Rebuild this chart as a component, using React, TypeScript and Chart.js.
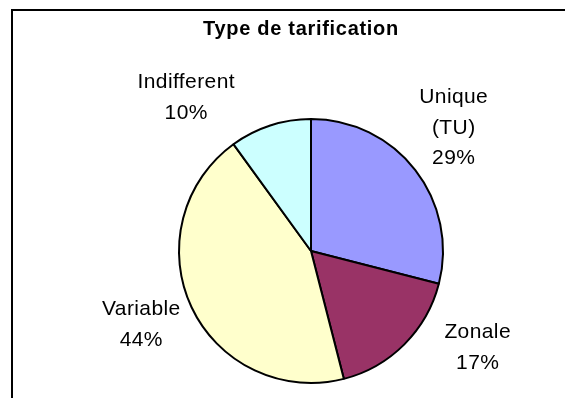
import React, { useEffect, useRef } from "react";
import { Chart, registerables } from "chart.js";

Chart.register(...registerables);

const chartTitle = "Type de tarification";
const categories = ["Unique (TU)", "Zonale", "Variable", "Indifferent"];
const shares = [29, 17, 44, 10];
const sliceColors = ["#9999FF", "#993366", "#FFFFCC", "#CCFFFF"];

const FONT = "'Liberation Sans', Arial, Helvetica, sans-serif";

const decorPlugin = {
  id: "decor",
  afterDraw(chart: any, _args: any, opts: any) {
    const ctx = chart.ctx as CanvasRenderingContext2D;
    ctx.save();
    // outer frame
    ctx.strokeStyle = "#000";
    ctx.lineWidth = 2;
    ctx.strokeRect(12, 10, 1000, 1000);

    // title
    ctx.fillStyle = "#000";
    ctx.font = `bold 20px ${FONT}`;
    (ctx as any).letterSpacing = "0.7px";
    ctx.textAlign = "center";
    ctx.textBaseline = "alphabetic";
    ctx.fillText(chartTitle, opts.titleX, opts.titleY);

    // slice labels
    const meta = chart.getDatasetMeta(0);
    const total = shares.reduce((a, b) => a + b, 0);
    ctx.font = `21px ${FONT}`;
    (ctx as any).letterSpacing = "0.4px";
    const L = 30.5;
    const capH = 15;
    meta.data.forEach((arc: any, i: number) => {
      const r = arc.outerRadius;
      const k = r / 132.25;
      const place = opts.placement[i];
      const cx = arc.x + place[0] * k;
      const cy = arc.y + place[1] * k;
      const lines = categories[i].split(" ");
      lines.push(Math.round((shares[i] / total) * 100) + "%");
      const n = lines.length;
      const first = cy - ((n - 1) * L) / 2 + capH / 2;
      lines.forEach((t, j) => ctx.fillText(t, cx, first + j * L));
    });
    ctx.restore();
  },
};

export default function App() {
  const ref = useRef<HTMLCanvasElement | null>(null);
  useEffect(() => {
    if (!ref.current) return;
    const chart = new Chart(ref.current, {
      type: "pie",
      data: {
        labels: categories,
        datasets: [
          {
            data: shares,
            backgroundColor: sliceColors,
            borderColor: "#000",
            borderWidth: 2,
          },
        ],
      },
      options: {
        animation: false,
        responsive: false,
        events: [],
        layout: { padding: { left: 178, right: 121, top: 118, bottom: 14 } },
        plugins: {
          legend: { display: false },
          tooltip: { enabled: false },
          title: { display: false },
          decor: {
            titleX: 301,
            titleY: 34.5,
            placement: [
              [143, -125.2],
              [167, 95.3],
              [-170, 72],
              [-125, -155.2],
            ],
          },
        } as any,
      },
      plugins: [decorPlugin],
    });
    return () => chart.destroy();
  }, []);
  return (
    <div style={{ position: "fixed", left: 0, top: 0, width: 565, height: 398, background: "#fff" }}>
      <canvas ref={ref} width={565} height={398} style={{ display: "block" }} />
    </div>
  );
}
